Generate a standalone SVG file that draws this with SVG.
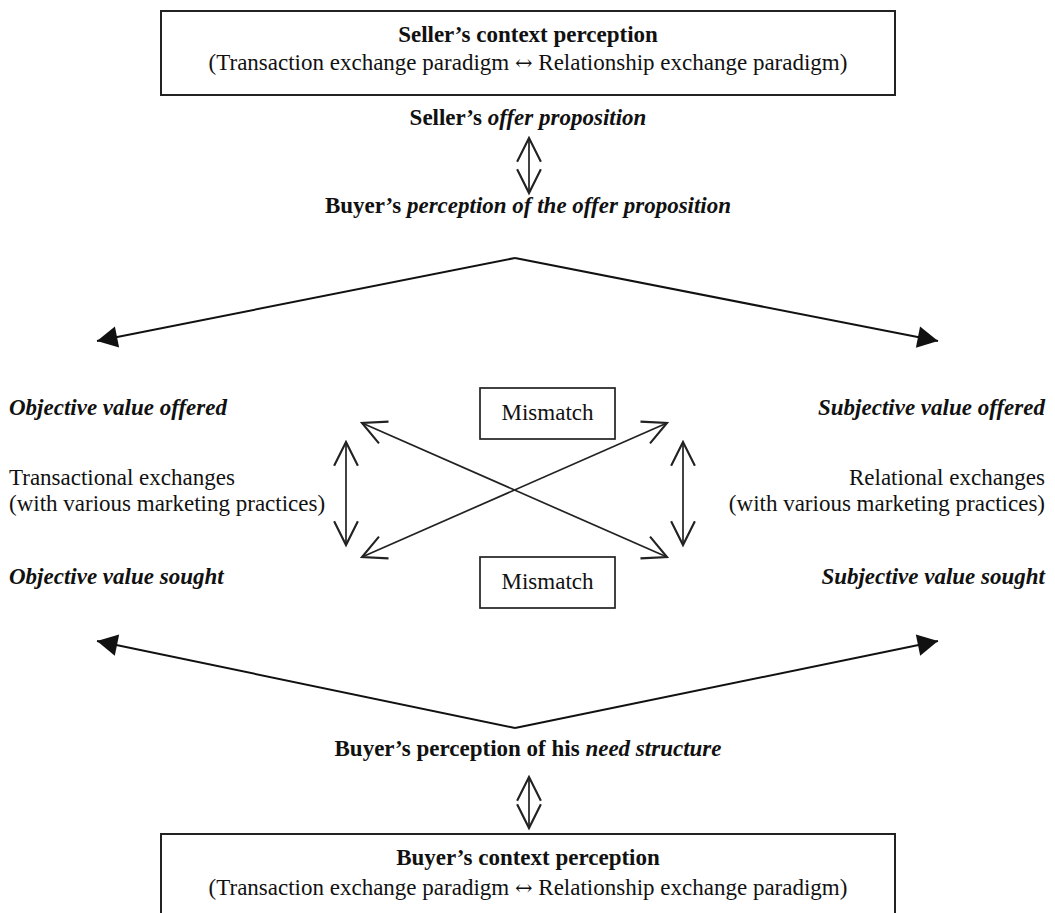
<svg xmlns="http://www.w3.org/2000/svg" width="1055" height="913" viewBox="0 0 1055 913" font-family="'Liberation Serif', 'Times New Roman', 'DejaVu Serif', serif">
<defs>
<style>
text{font-family:'Liberation Serif','Times New Roman','DejaVu Serif',serif;font-size:23px;fill:#111}
.b{font-weight:bold}
.bi{font-weight:bold;font-style:italic}
.c{text-anchor:middle}
.r{text-anchor:end}
.arr{font-family:'DejaVu Serif',serif;font-size:21px}
.box{fill:none;stroke:#222;stroke-width:2}
.thin{fill:none;stroke:#222;stroke-width:1.7}
.fork{fill:none;stroke:#111;stroke-width:2}
</style>
<marker id="open" markerUnits="userSpaceOnUse" markerWidth="30" markerHeight="30" viewBox="-22 -12 24 24" refX="0" refY="0" orient="auto-start-reverse">
<path d="M-19,-9.5 L0,0 L-19,9.5" fill="none" stroke="#222" stroke-width="1.7"/>
</marker>
<marker id="solid" markerUnits="userSpaceOnUse" markerWidth="24" markerHeight="24" viewBox="-18 -10 20 20" refX="0" refY="0" orient="auto">
<path d="M0,0 L-17,-9 L-17,9 Z" fill="#111"/>
</marker>
</defs>
<rect width="1055" height="913" fill="#fff"/>

<g id="seller-context">
<rect class="box" x="161" y="11" width="734" height="84"/>
<text class="b c" x="528" y="42">Seller’s context perception</text>
<text class="c" x="528" y="70">(Transaction exchange paradigm <tspan class="arr">↔</tspan> Relationship exchange paradigm)</text>
</g>

<g id="seller-offer">
<text class="b c" x="528" y="125">Seller’s <tspan class="bi">offer proposition</tspan></text>
</g>

<g id="buyer-offer-perception">
<text class="b c" x="528" y="213">Buyer’s <tspan class="bi">perception of the offer proposition</tspan></text>
</g>

<g id="objective-offered">
<text class="bi" x="9" y="415">Objective value offered</text>
</g>
<g id="transactional">
<text x="9" y="485">Transactional exchanges</text>
<text x="9" y="511">(with various marketing practices)</text>
</g>
<g id="objective-sought">
<text class="bi" x="9" y="584">Objective value sought</text>
</g>

<g id="subjective-offered">
<text class="bi r" x="1045" y="415">Subjective value offered</text>
</g>
<g id="relational">
<text class="r" x="1045" y="485">Relational exchanges</text>
<text class="r" x="1045" y="511">(with various marketing practices)</text>
</g>
<g id="subjective-sought">
<text class="bi r" x="1045" y="584">Subjective value sought</text>
</g>

<g id="mismatch-top">
<rect class="thin" x="480" y="388" width="135" height="51"/>
<text class="c" x="547.5" y="420">Mismatch</text>
</g>
<g id="mismatch-bottom">
<rect class="thin" x="480" y="557" width="135" height="51"/>
<text class="c" x="547.5" y="589">Mismatch</text>
</g>

<g id="buyer-need">
<text class="b c" x="528" y="756">Buyer’s perception of his <tspan class="bi">need structure</tspan></text>
</g>

<g id="buyer-context">
<rect class="box" x="161" y="834" width="734" height="90"/>
<text class="b c" x="528" y="865">Buyer’s context perception</text>
<text class="c" x="528" y="895">(Transaction exchange paradigm <tspan class="arr">↔</tspan> Relationship exchange paradigm)</text>
</g>

<g id="connectors">
<line class="thin" x1="529" y1="138" x2="529" y2="193" marker-start="url(#open)" marker-end="url(#open)"/>
<line class="fork" x1="515" y1="258" x2="97" y2="341" marker-end="url(#solid)"/>
<line class="fork" x1="515" y1="258" x2="938" y2="341" marker-end="url(#solid)"/>
<line class="thin" x1="362" y1="423" x2="667" y2="557" marker-start="url(#open)" marker-end="url(#open)"/>
<line class="thin" x1="362" y1="557" x2="667" y2="423" marker-start="url(#open)" marker-end="url(#open)"/>
<line class="thin" x1="346" y1="442" x2="346" y2="545" marker-start="url(#open)" marker-end="url(#open)"/>
<line class="thin" x1="683" y1="442" x2="683" y2="545" marker-start="url(#open)" marker-end="url(#open)"/>
<line class="fork" x1="515" y1="728" x2="97" y2="641" marker-end="url(#solid)"/>
<line class="fork" x1="515" y1="728" x2="938" y2="641" marker-end="url(#solid)"/>
<line class="thin" x1="529" y1="777" x2="529" y2="828" marker-start="url(#open)" marker-end="url(#open)"/>
</g>
</svg>
